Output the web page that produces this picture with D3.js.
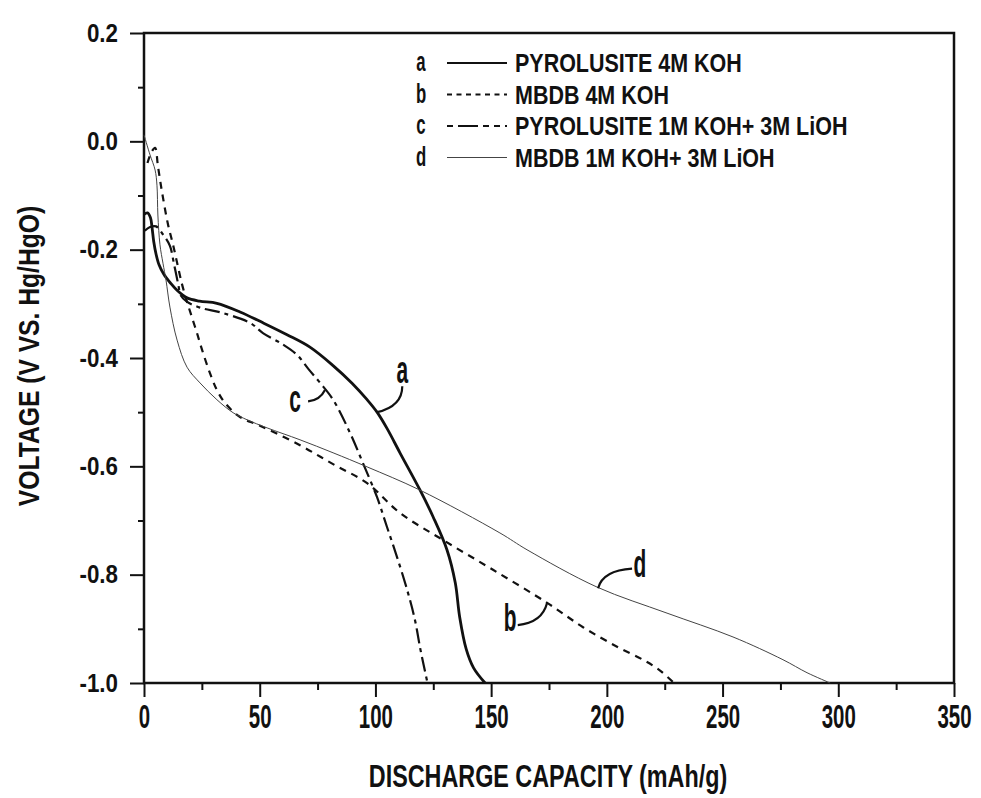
<!DOCTYPE html>
<html>
<head>
<meta charset="utf-8">
<script src="https://cdn.jsdelivr.net/npm/d3@7"></script>
<style>
    body { margin: 0; background: #ffffff; }
    svg { display: block; }
</style>
</head>
<body>
<svg id="svgDischarge" width="981" height="798"></svg>
<script>
// Discharge curves: [capacity (mAh/g), voltage (V vs. Hg/HgO)]
var pyrolusite4M = [
    [0, -0.135], [1.5, -0.132], [2.8, -0.141], [3.5, -0.160], [4.2, -0.185],
    [5.2, -0.208], [6.5, -0.228], [8.5, -0.245], [11.5, -0.262], [14.5, -0.276],
    [18.6, -0.289], [24, -0.295], [31.5, -0.299], [41.5, -0.315], [51.4, -0.335],
    [61.8, -0.357], [71.7, -0.380], [81.7, -0.414], [90, -0.447], [96.4, -0.477],
    [100.7, -0.500], [105, -0.530], [110.6, -0.575], [119.3, -0.644], [124.9, -0.693],
    [130.9, -0.754], [134.5, -0.815], [136.4, -0.878], [139.2, -0.937], [142.4, -0.972],
    [147.4, -1.0]
];
var mbdb4M = [
    [1.5, -0.040], [3.2, -0.020], [4.8, -0.012], [6.0, -0.045], [7.8, -0.094],
    [10.4, -0.154], [12.5, -0.190], [14.5, -0.228], [16.5, -0.265], [18.5, -0.295],
    [20.5, -0.322], [22.9, -0.354], [25.1, -0.385], [28.5, -0.428], [31.5, -0.459],
    [35, -0.483], [41.5, -0.509], [50.1, -0.525], [67.4, -0.561], [81.7, -0.596],
    [96.4, -0.631], [110.6, -0.686], [129.2, -0.736], [150.8, -0.791], [174.2, -0.852],
    [189.7, -0.897], [204.4, -0.933], [216, -0.958], [223, -0.977], [229, -1.0]
];
var pyrolusiteLiOH = [
    [0.3, -0.165], [2.6, -0.158], [5.2, -0.157], [8.2, -0.172], [11.2, -0.193],
    [12.9, -0.225], [14.7, -0.262], [16.0, -0.285], [18.5, -0.296], [24.2, -0.307],
    [34.1, -0.317], [45.8, -0.335], [51.4, -0.354], [60, -0.375], [66.1, -0.394],
    [71, -0.420], [76.1, -0.446], [81.7, -0.477], [89.0, -0.538], [94.6, -0.594],
    [100.7, -0.657], [105.0, -0.712], [109.3, -0.767], [114.1, -0.834], [117.1, -0.884],
    [119.3, -0.935], [121, -0.970], [122.5, -1.0]
];
var mbdbLiOH = [
    [0, 0.012], [2.6, -0.025], [4.8, -0.053], [5.6, -0.081], [6.0, -0.136],
    [6.9, -0.191], [8.2, -0.225], [9.5, -0.256], [11.2, -0.306], [14.3, -0.367],
    [18.6, -0.417], [24.2, -0.446], [31.5, -0.477], [38.5, -0.501], [44.5, -0.514],
    [53.2, -0.529], [67.4, -0.551], [81.7, -0.575], [96.4, -0.601], [119.3, -0.644],
    [153.8, -0.723], [165.5, -0.754], [195.8, -0.823], [226.0, -0.871], [254.5, -0.915],
    [276.1, -0.957], [286.5, -0.981], [296.5, -1.0]
];

var seriesLetters = ["a", "b", "c", "d"];
var seriesNames = [
    "PYROLUSITE 4M KOH",
    "MBDB 4M KOH",
    "PYROLUSITE 1M KOH+ 3M LiOH",
    "MBDB 1M KOH+ 3M LiOH"
];

var xMajorTicks = [0, 50, 100, 150, 200, 250, 300, 350];
var xMinorTicks = [25, 75, 125, 175, 225, 275, 325];
var yMajorTicks = [-1.0, -0.8, -0.6, -0.4, -0.2, 0.0, 0.2];
var yMinorTicks = [-0.9, -0.7, -0.5, -0.3, -0.1, 0.1];
var yTickLabels = ["-1.0", "-0.8", "-0.6", "-0.4", "-0.2", "0.0", "0.2"];

var xTitle = "DISCHARGE CAPACITY (mAh/g)";
var yTitle = "VOLTAGE (V VS. Hg/HgO)";

// Callout letters on the curves: label spot, start on the curve, bend, end near label
var callouts = [
    {letter: "a", label: [111.6, -0.428], from: [100.7, -0.500], bend: [111.6, -0.489], to: [111.6, -0.452]},
    {letter: "b", label: [158.2, -0.889], from: [174.2, -0.852], bend: [172.0, -0.889], to: [161.5, -0.893]},
    {letter: "c", label: [65.3, -0.481], from: [78.2, -0.459], bend: [76.0, -0.478], to: [70.9, -0.480]},
    {letter: "d", label: [214.3, -0.788], from: [196.2, -0.825], bend: [198.4, -0.792], to: [210.9, -0.789]}
];

function drawChart() {
    /*
    Draws the discharge capacity plot with its legend and callouts
    */

    var svgWidth = 981;
    var svgHeight = 798;

    var padding = {
        top: 33,
        right: 27,
        bottom: 115,
        left: 144
    };

    var chartWidth = svgWidth - padding.left - padding.right;
    var chartHeight = svgHeight - padding.top - padding.bottom;

    var fontFamily = "'Liberation Sans', Arial, sans-serif";

    var svg = d3.select("#svgDischarge");

    var chart = svg.append("g")
        .attr("class", "chart")
        .attr("transform", `translate(${padding.left}, ${padding.top})`);

    var xScale = d3.scaleLinear()
        .domain([0, 350])
        .range([0, chartWidth]);

    var yScale = d3.scaleLinear()
        .domain([-1.0, 0.2])
        .range([chartHeight, 0]);

    // Squeeze text horizontally round its anchor point to get the narrow lettering
    function squeeze(selection, factor) {
        selection.each(function() {
            var text = d3.select(this);
            var x = +text.attr("x") || 0;
            var y = +text.attr("y") || 0;
            var prior = text.attr("transform") || "";
            text.attr("transform",
                `${prior} translate(${x},${y}) scale(${factor},1) translate(${-x},${-y})`);
        });
    }

    // Minor ticks
    chart.append("g")
        .attr("class", "axis minor")
        .call(d3.axisLeft(yScale).tickValues(yMinorTicks).tickSize(6).tickFormat(""));

    chart.append("g")
        .attr("class", "axis minor")
        .attr("transform", `translate(0, ${chartHeight})`)
        .call(d3.axisBottom(xScale).tickValues(xMinorTicks).tickSize(7).tickFormat(""));

    // Major ticks with labels
    var yAxis = chart.append("g")
        .attr("class", "axis")
        .call(d3.axisLeft(yScale)
            .tickValues(yMajorTicks)
            .tickSize(14)
            .tickPadding(12)
            .tickFormat((d, i) => yTickLabels[i]));

    var xAxis = chart.append("g")
        .attr("class", "axis")
        .attr("transform", `translate(0, ${chartHeight})`)
        .call(d3.axisBottom(xScale)
            .tickValues(xMajorTicks)
            .tickSize(14)
            .tickPadding(8));

    chart.selectAll(".axis .domain").remove();
    chart.selectAll(".axis line")
        .attr("stroke", "#111")
        .attr("stroke-width", 2);

    yAxis.selectAll("text")
        .attr("font-family", fontFamily)
        .attr("font-weight", "bold")
        .attr("font-size", 26)
        .attr("fill", "#111")
        .call(squeeze, 0.86);

    xAxis.selectAll("text")
        .attr("font-family", fontFamily)
        .attr("font-weight", "bold")
        .attr("font-size", 33)
        .attr("fill", "#111")
        .call(squeeze, 0.62);

    // Frame round the plot area
    chart.append("rect")
        .attr("x", 0)
        .attr("y", 0)
        .attr("width", chartWidth)
        .attr("height", chartHeight)
        .attr("fill", "none")
        .attr("stroke", "#111")
        .attr("stroke-width", 2.5);

    // Axis titles
    svg.append("text")
        .attr("x", padding.left + chartWidth / 2 - 1)
        .attr("y", 787)
        .attr("text-anchor", "middle")
        .attr("font-family", fontFamily)
        .attr("font-weight", "bold")
        .attr("font-size", 32)
        .attr("fill", "#111")
        .text(xTitle)
        .call(squeeze, 0.73);

    svg.append("text")
        .attr("x", -(padding.top + chartHeight / 2) + 2)
        .attr("y", 39)
        .attr("transform", "rotate(270)")
        .attr("text-anchor", "middle")
        .attr("font-family", fontFamily)
        .attr("font-weight", "bold")
        .attr("font-size", 29)
        .attr("fill", "#111")
        .text(yTitle)
        .call(squeeze, 0.85);

    // Line styles per series
    var lineStyles = [
        {width: 2.8, dash: null, color: "#111"},
        {width: 2.2, dash: "7,6", color: "#111"},
        {width: 2.2, dash: "15,5,4,5", color: "#111"},
        {width: 1, dash: null, color: "#444"}
    ];
    var legendDashes = [null, "5,4.5", "6,5,20,5,6,5,6,5", null];

    var series = [pyrolusite4M, mbdb4M, pyrolusiteLiOH, mbdbLiOH];

    var line = d3.line()
        .x(d => xScale(d[0]))
        .y(d => yScale(d[1]))
        .curve(d3.curveCatmullRom.alpha(0.5));

    chart.selectAll(".curve")
        .data(series)
        .enter()
        .append("path")
            .attr("class", "curve")
            .attr("d", line)
            .attr("fill", "none")
            .attr("stroke", (d, i) => lineStyles[i].color)
            .attr("stroke-width", (d, i) => lineStyles[i].width)
            .attr("stroke-dasharray", (d, i) => lineStyles[i].dash);

    // Callouts
    var callout = chart.selectAll(".callout")
        .data(callouts)
        .enter()
        .append("g")
            .attr("class", "callout");

    callout.append("path")
        .attr("d", function(c) {
            return `M${xScale(c.from[0])},${yScale(c.from[1])}` +
                ` Q${xScale(c.bend[0])},${yScale(c.bend[1])}` +
                ` ${xScale(c.to[0])},${yScale(c.to[1])}`;
        })
        .attr("fill", "none")
        .attr("stroke", "#111")
        .attr("stroke-width", 2.2);

    callout.append("text")
        .attr("x", c => xScale(c.label[0]))
        .attr("y", c => yScale(c.label[1]))
        .attr("dy", c => (c.letter === "b" || c.letter === "d") ? "0.22em" : "0.26em")
        .attr("text-anchor", "middle")
        .attr("font-family", fontFamily)
        .attr("font-weight", "bold")
        .attr("font-size", 38)
        .attr("fill", "#111")
        .text(c => c.letter)
        .call(squeeze, 0.55);

    // Legend
    var legend = chart.append("g")
        .attr("class", "legend")
        .attr("transform", "translate(277, 30)");

    var legendRows = legend.selectAll(".legendRow")
        .data(seriesNames)
        .enter()
        .append("g")
            .attr("class", "legendRow")
            .attr("transform", (d, i) => `translate(0, ${i * 31.5})`);

    legendRows.append("text")
        .attr("x", 0)
        .attr("y", 0)
        .attr("dy", "0.3em")
        .attr("text-anchor", "middle")
        .attr("font-family", fontFamily)
        .attr("font-weight", "bold")
        .attr("font-size", 27)
        .attr("fill", "#111")
        .text((d, i) => seriesLetters[i])
        .call(squeeze, 0.62);

    legendRows.append("line")
        .attr("x1", 26)
        .attr("x2", 86)
        .attr("y1", 0)
        .attr("y2", 0)
        .attr("stroke", (d, i) => lineStyles[i].color)
        .attr("stroke-width", (d, i) => Math.min(lineStyles[i].width, 2))
        .attr("stroke-dasharray", (d, i) => legendDashes[i]);

    legendRows.append("text")
        .attr("x", 94)
        .attr("y", 0)
        .attr("dy", "0.36em")
        .attr("font-family", fontFamily)
        .attr("font-weight", "bold")
        .attr("font-size", 25)
        .attr("fill", "#111")
        .text(d => d)
        .call(squeeze, 0.86);
}

drawChart();
</script>
</body>
</html>
